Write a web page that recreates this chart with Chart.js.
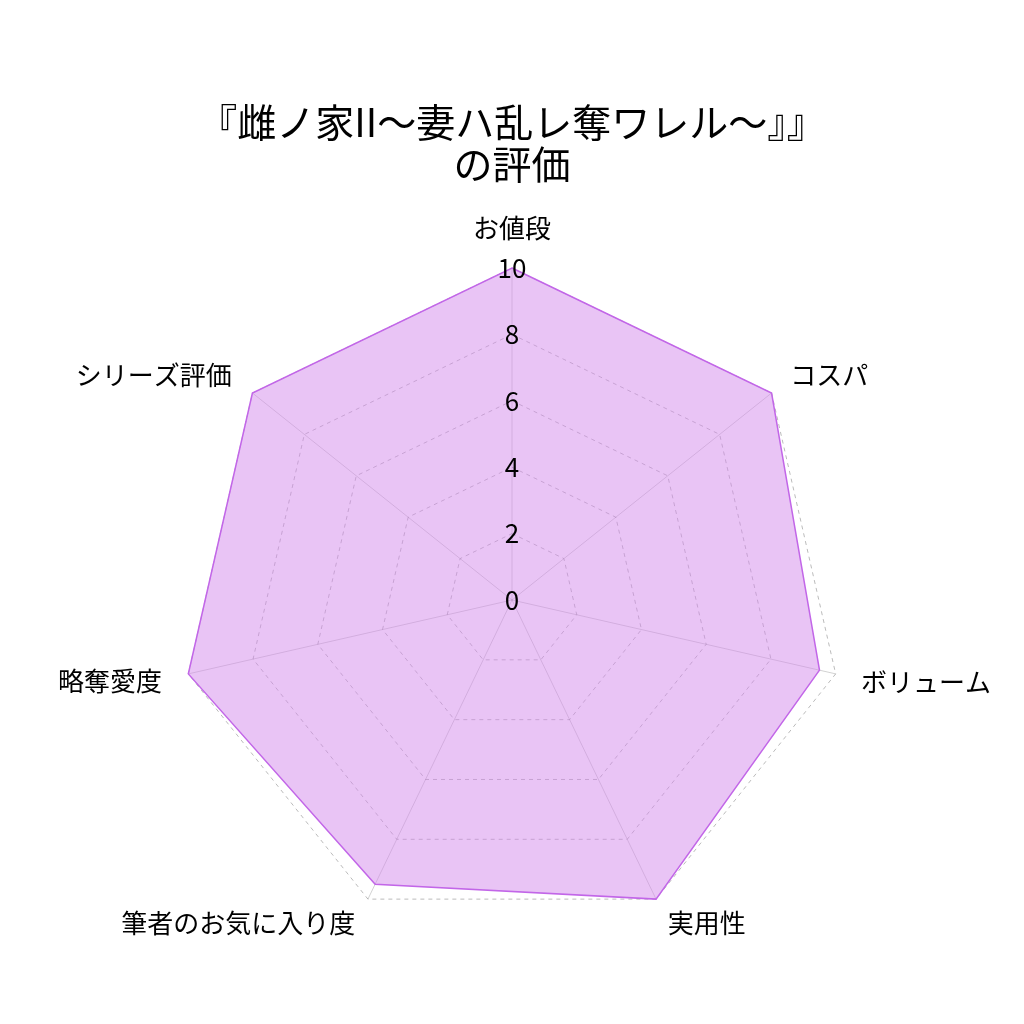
<!DOCTYPE html>
<html><head><meta charset="utf-8">
<script src="https://cdn.jsdelivr.net/npm/chart.js@4"></script>
<style>html,body{margin:0;padding:0;background:#fff}#w{width:1024px;height:1024px}</style>
</head><body><div id="w"><canvas id="c"></canvas></div>
<script>
const categories = ["お値段","コスパ","ボリューム","実用性","筆者のお気に入り度","略奪愛度","シリーズ評価"];
const scores = [10, 10, 9.5, 10, 9.5, 10, 10];
const tickValues = [0, 2, 4, 6, 8, 10];
const titleLines = ["『雌ノ家II〜妻ハ乱レ奪ワレル〜』』", "の評価"];
const F = "'Noto Sans CJK JP','Noto Sans',sans-serif";
const GEOM = { x: 512, y: 600, radius: 332,
  labelDx: [0, -4, -3, -1, 0, 2, 2],
  labelDy: [5, 16, -14, -18, -18, -15, 16] };
const recenter = {
  id: 'recenter',
  afterLayout(chart) {
    const r = chart.scales.r;
    const dx = GEOM.x - r.xCenter, dy = GEOM.y - r.yCenter, dr = GEOM.radius - r.drawingArea;
    r.xCenter = GEOM.x; r.yCenter = GEOM.y; r.drawingArea = GEOM.radius;
    const n = (r._pointLabelItems || []).length;
    (r._pointLabelItems || []).forEach((it, i) => {
      const a = i * 2 * Math.PI / n;
      const sx = dx + dr * Math.sin(a) + (GEOM.labelDx[i] || 0);
      const sy = dy - dr * Math.cos(a) + (GEOM.labelDy[i] || 0);
      it.x += sx; it.left += sx; it.right += sx;
      it.y += sy; it.top += sy; it.bottom += sy;
    });
  }
};
const zeroLabel = {
  id: 'zeroLabel',
  afterDatasetsDraw(chart) {
    const r = chart.scales.r, ctx = chart.ctx;
    ctx.save();
    ctx.font = "26px " + F;
    ctx.fillStyle = '#000';
    ctx.textAlign = 'center';
    ctx.textBaseline = 'middle';
    ctx.fillText(String(tickValues[0]), r.xCenter, r.yCenter);
    ctx.restore();
  }
};
new Chart(document.getElementById('c'), {
  type: 'radar',
  data: { labels: categories, datasets: [{
    data: scores,
    backgroundColor: 'rgba(211,137,235,0.5)',
    borderColor: '#c266e8',
    borderWidth: 1.5,
    pointRadius: 0
  }]},
  options: {
    responsive: true, maintainAspectRatio: false, animation: false,
    layout: { padding: { top: 102, bottom: 50, left: 30, right: 30 } },
    plugins: {
      legend: { display: false },
      title: { display: true, text: titleLines, color: '#000', font: { family: F, size: 39, weight: 'normal', lineHeight: 1.06 }, padding: { bottom: 20 } }
    },
    scales: { r: {
      min: 0, max: 10,
      afterBuildTicks(s) { s.ticks = tickValues.map(v => ({ value: v })); },
      ticks: { showLabelBackdrop: false, color: '#000', font: { family: F, size: 26 }, z: 1 },
      grid: { color: '#bbbbbb' },
      border: { dash: [4, 4] },
      angleLines: { color: 'rgba(0,0,0,0.18)' },
      pointLabels: { color: '#000', font: { family: F, size: 26 }, padding: 14 }
    }}
  },
  plugins: [recenter, zeroLabel]
});
</script></body></html>
